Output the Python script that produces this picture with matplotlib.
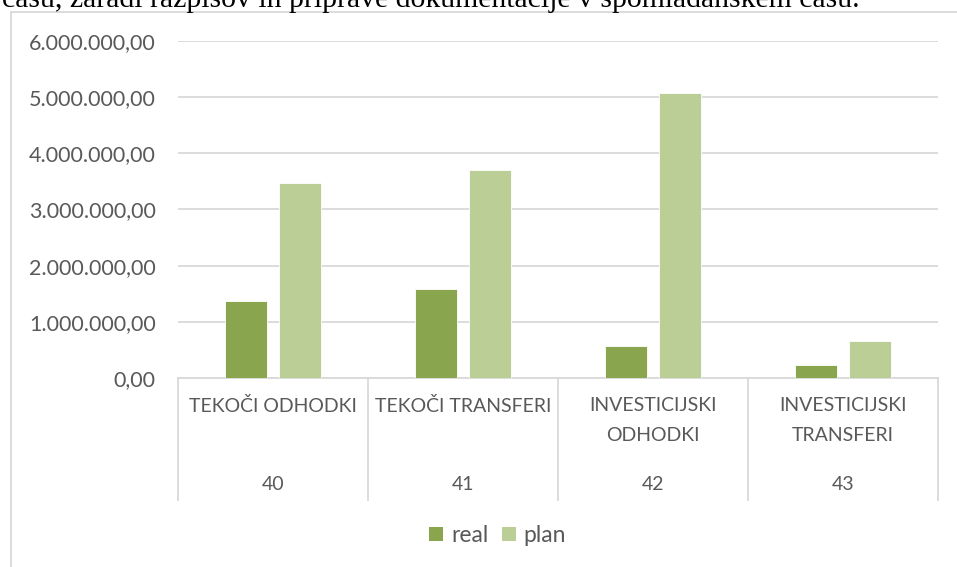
import numpy as np
import matplotlib.pyplot as plt
from matplotlib.patches import Rectangle
from matplotlib.lines import Line2D

# data
codes = ["40", "41", "42", "43"]
groups = ["TEKOČI ODHODKI", "TEKOČI TRANSFERI", "INVESTICIJSKI\nODHODKI", "INVESTICIJSKI\nTRANSFERI"]
real = [1365000, 1585000, 570000, 228000]
plan = [3465000, 3705000, 5070000, 655000]
yticks = [0, 1000000, 2000000, 3000000, 4000000, 5000000, 6000000]

c_real = "#89A54E"
c_plan = "#BACE96"
grey = "#595959"
line = "#D9D9D9"
W, H = 957, 567

plt.rcParams["font.family"] = ["Lato", "DejaVu Sans"]

fig = plt.figure(figsize=(W / 100, H / 100), dpi=100)
ax = fig.add_axes([178 / W, 1 - 378 / H, 760 / W, 337 / H])
px = 6000000 / 337  # data units per pixel on y

x = np.arange(len(codes))
bw = 0.2225
ax.bar(x - 0.142, real, bw, color=c_real, edgecolor="white", linewidth=0.6, zorder=3)
ax.bar(x + 0.142, plan, bw, color=c_plan, edgecolor="white", linewidth=0.6, zorder=3)

ax.set_xlim(-0.5, 3.5)
ax.set_ylim(0, 6000000)
ax.set_yticks(yticks)
ax.set_yticklabels([f"{v:,.2f}".replace(",", " ").replace(".", ",").replace(" ", ".") for v in yticks])
ax.tick_params(axis="y", length=0, pad=16, labelsize=15.5, labelcolor=grey)
ax.set_xticks([])
ax.grid(axis="y", color=line, linewidth=1.3, zorder=0)
for s in ["top", "right", "left"]:
    ax.spines[s].set_visible(False)
ax.spines["bottom"].set_color(line)
ax.spines["bottom"].set_linewidth(1.3)

# multi-level category axis
for b in np.arange(-0.5, 4, 1):
    ax.plot([b, b], [0, -122 * px], color=line, lw=1.3, clip_on=False)
for i in x:
    ax.text(i, -19 * px, groups[i], ha="center", va="top", fontsize=14,
            color=grey, linespacing=1.95)
    ax.text(i, -107 * px, codes[i], ha="center", va="center", fontsize=14, color=grey)

# legend with square swatches
handles = [Line2D([], [], ls="none", marker="s", markersize=10, color=c, markeredgewidth=0)
           for c in (c_real, c_plan)]
fig.legend(handles, ["real", "plan"], loc="center", bbox_to_anchor=(0.52, 1 - 536 / H), ncol=2,
           frameon=False, fontsize=16.5, handlelength=0.6, handletextpad=0.35,
           columnspacing=0.6, labelcolor=grey)

# chart border and cut-off text line above
fig.patches.append(Rectangle((11 / W, -0.1), 1.0, 1 - 12 / H + 0.1, transform=fig.transFigure,
                             fill=False, edgecolor=line, lw=1.3))
fig.text(2 / W, 1 - 7 / H, "času, zaradi razpisov in priprave dokumentacije v spomladanskem času.",
         family="Liberation Serif", fontsize=21.4, va="baseline", ha="left", color="black")

fig.savefig("out.png", dpi=100)
